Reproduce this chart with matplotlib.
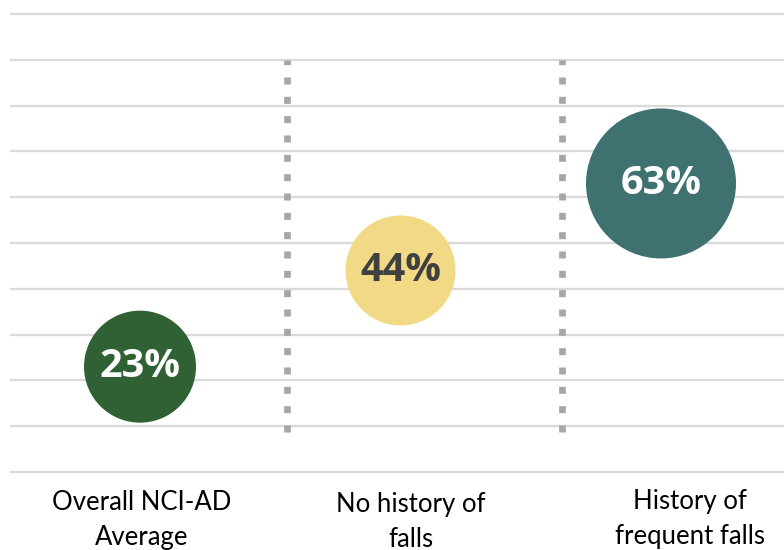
import matplotlib
matplotlib.use("Agg")
import matplotlib.pyplot as plt
import numpy as np

# data
categories = ["Overall NCI-AD\nAverage", "No history of\nfalls", "History of\nfrequent falls"]
values = [23, 44, 63]
value_labels = ["23%", "44%", "63%"]
bubble_sizes = [56, 55, 75]  # relative bubble radius
colors = ["#2f6134", "#f1d985", "#3f7170"]
text_colors = ["white", "#404040", "white"]

fig = plt.figure(figsize=(7.84, 5.5), dpi=100)
W, H = 784, 550
left_px, right_px = 11, 784
bottom_px, top_px = 472, 14
ax = fig.add_axes([left_px / W, 1 - bottom_px / H, (right_px - left_px) / W, (bottom_px - top_px) / H])

px_per_unit = 260.5
x0 = 1 - (140 - left_px) / px_per_unit
x1 = 3 + (right_px - 661) / px_per_unit
ax.set_xlim(x0, x1)
ax.set_ylim(0, 100)

for y in np.arange(0, 101, 10):
    ax.axhline(y, color="#d9d9d9", lw=1.6, zorder=0, clip_on=False)

xs = np.arange(1, len(values) + 1)
# dotted separators
for xsep in [1.565, 2.62]:
    ax.plot([xsep, xsep], [8.8, 90], color="#a6a6a6", lw=4.8,
            linestyle=(0, (1.05, 1.85)), solid_capstyle="butt", dash_capstyle="butt", zorder=1)

sizes = [(2 * r * 0.72) ** 2 for r in bubble_sizes]
ax.scatter(xs, values, s=sizes, c=colors, zorder=3, linewidths=0)

for x, v, lab, tc in zip(xs, values, value_labels, text_colors):
    ax.text(x, v, lab, ha="center", va="center", color=tc, fontsize=28.5,
            fontweight="bold", family="Open Sans", zorder=4)

label_x = [1.008, 2.04, 3.11]
label_y = [-4.0, -4.4, -3.8]
for lx, ly, cat in zip(label_x, label_y, categories):
    ax.text(lx, ly, cat, ha="center", va="top", fontsize=18.5, family="Lato",
            color="#000000", linespacing=1.5, clip_on=False)

ax.set_xticks([])
ax.set_yticks([])
for s in ax.spines.values():
    s.set_visible(False)

fig.savefig("out.png", dpi=100)
